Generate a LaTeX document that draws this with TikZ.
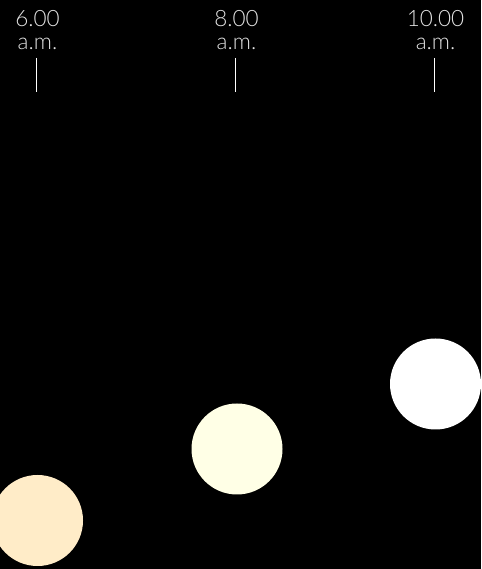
\documentclass[tikz,border=0pt]{standalone}
\usepackage{fontspec}
\setmainfont{Lato Light}
\usepackage{tikz}
\usetikzlibrary{positioning}
\definecolor{sunpeach}{RGB}{255,236,200}
\definecolor{sunpale}{RGB}{255,255,230}
\definecolor{lbltext}{RGB}{228,228,228}

\begin{document}
\begin{tikzpicture}[x=1pt, y=1pt,
    hour/.style={anchor=north, align=center, inner sep=0pt, text=lbltext,
      font=\fontsize{22.5}{23}\selectfont},
    tick/.style={draw=white, line width=1pt},
    sun/.style={circle, minimum size=91pt, inner sep=0pt}
]
% background
\fill[black] (0,0) rectangle (481,569);
\useasboundingbox (0,0) rectangle (481,569);

% Hour labels
\node[hour] (h6) at (37.5, 559) {6.00\\a.m.};
\node[hour] (h8) at (236.5, 559) {8.00\\a.m.};
\node[hour] (h10) at (435.5, 559) {10.00\\a.m.};

% Ticks
\coordinate (t6a) at (36.7, 511);  \coordinate (t6b) at (36.7, 477);
\coordinate (t8a) at (235.7, 511); \coordinate (t8b) at (235.7, 477);
\coordinate (t10a) at (434.3, 511); \coordinate (t10b) at (434.3, 477);
\draw[tick] (t6a) -- (t6b);
\draw[tick] (t8a) -- (t8b);
\draw[tick] (t10a) -- (t10b);

% Sun positions
\node[sun, fill=sunpeach] (s6) at (37.5, 48.5) {};
\node[sun, fill=sunpale] (s8) at (237, 120) {};
\node[sun, fill=white] (s10) at (435.5, 185) {};
\end{tikzpicture}
\end{document}
